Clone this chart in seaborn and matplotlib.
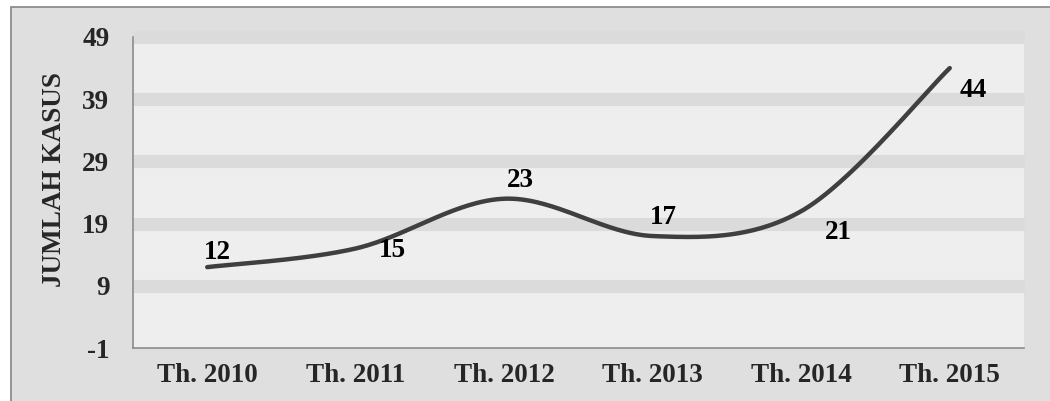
import numpy as np
import pandas as pd
import matplotlib
matplotlib.use("Agg")
import matplotlib.pyplot as plt
from matplotlib.patches import Rectangle
import seaborn as sns

categories = ["Th. 2010", "Th. 2011", "Th. 2012", "Th. 2013", "Th. 2014", "Th. 2015"]
values = [12, 15, 23, 17, 21, 44]
y_ticks = [-1, 9, 19, 29, 39, 49]
y_label = "JUMLAH KASUS"
# label offsets in pixels (dx, dy) relative to each point
label_offsets = [(10, 15), (37, -2), (16, 18), (11, 19), (37, -21), (23, -22)]

FS = 19.5

sns.set_theme(style="white")
plt.rcParams['font.family'] = ['Liberation Serif', 'DejaVu Serif']
plt.rcParams['font.weight'] = 'bold'

fig = plt.figure(figsize=(10.5, 4.01), dpi=100)
fig.patch.set_facecolor("white")
fig.patches.append(Rectangle((11/1050, -0.05), 1.1, 1 - 7/401 + 0.05,
                             transform=fig.transFigure, facecolor="#dfdfdf",
                             edgecolor="#8c8c8c", linewidth=1.3, zorder=-5))

ax = fig.add_axes([133/1050, (401-348)/401, (1024-133)/1050, (348-37)/401])
ax.set_zorder(2)
ax.set_facecolor("#eeeeee")

# smooth (Excel-style) curve through the data points via cubic Bezier segments
xs_idx = np.arange(len(values), dtype=float)
vals = np.array(values, dtype=float)
px = np.concatenate([[xs_idx[0]], xs_idx, [xs_idx[-1]]])
py = np.concatenate([[vals[0]], vals, [vals[-1]]])
cx, cy = [], []
t = np.linspace(0, 1, 60)
for i in range(len(values) - 1):
    p0 = np.array([px[i+1], py[i+1]])
    p3 = np.array([px[i+2], py[i+2]])
    c1 = p0 + (np.array([px[i+2], py[i+2]]) - np.array([px[i], py[i]])) / 6
    c2 = p3 - (np.array([px[i+3], py[i+3]]) - np.array([px[i+1], py[i+1]])) / 6
    b = ((1-t)**3)[:, None]*p0 + (3*(1-t)**2*t)[:, None]*c1 + (3*(1-t)*t**2)[:, None]*c2 + (t**3)[:, None]*p3
    cx.extend(b[:, 0]); cy.extend(b[:, 1])
curve = pd.DataFrame({"x": cx, "y": cy})

for yv in y_ticks[1:]:
    ax.axhline(yv, color="#dbdbdb", linewidth=9.5, zorder=1, clip_on=False,
               solid_capstyle="butt")

sns.lineplot(data=curve, x="x", y="y", sort=False, estimator=None, ax=ax,
             color="#3f3f3f", linewidth=3.2, zorder=3, solid_capstyle="round")

for i, (v, (dx, dy)) in enumerate(zip(values, label_offsets)):
    ax.annotate(str(v), (i, v), xytext=(dx, dy), textcoords="offset pixels",
                ha="center", va="center", fontsize=FS, fontweight="bold",
                color="black", zorder=4)

ax.set_xlim(-0.5, len(categories) - 0.5)
ax.set_ylim(-1, 49)
ax.set_xticks(range(len(categories)))
ax.set_xticklabels(categories, fontsize=FS, fontweight="bold")
ax.set_yticks(y_ticks)
ax.set_yticklabels([str(v) for v in y_ticks], fontsize=FS, fontweight="bold")
ax.tick_params(axis="x", length=0, pad=11)
ax.tick_params(axis="y", length=0, pad=17)
ax.set_xlabel("")
ax.set_ylabel(y_label, fontsize=FS, fontweight="bold")
ax.yaxis.set_label_coords(-0.074, 0.54)

for s in ["top", "right"]:
    ax.spines[s].set_visible(False)
for s in ["left", "bottom"]:
    ax.spines[s].set_color("#8c8c8c")
    ax.spines[s].set_linewidth(1.2)

fig.savefig("out.png", dpi=100, facecolor=fig.get_facecolor())
